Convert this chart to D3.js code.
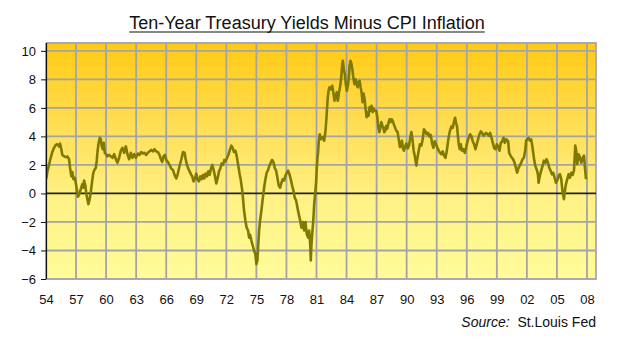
<!DOCTYPE html>
<html>
<head>
<meta charset="utf-8">
<script src="https://cdn.jsdelivr.net/npm/d3@7"></script>
<style>
  html, body { margin: 0; padding: 0; background: #fff; }
  svg { display: block; }
  text { font-family: "Liberation Sans", Arial, sans-serif; fill: #111; }
</style>
</head>
<body>
<svg id="chart" width="620" height="343"></svg>
<script>
// Real 10-year Treasury yield (yield minus CPI inflation), %, by decimal year
const decYear = [
  1954.00,1954.07,1954.13,1954.30,1954.47,1954.63,1954.80,1954.97,1955.13,1955.30,1955.40,1955.53,1955.63,1955.80,1955.97,
  1956.13,1956.30,1956.40,1956.53,1956.63,1956.73,1956.87,1956.97,1957.07,1957.20,1957.33,1957.47,1957.63,1957.73,1957.80,1957.93,
  1958.03,1958.13,1958.23,1958.33,1958.47,1958.57,1958.70,1958.80,1958.97,1959.07,1959.13,1959.23,1959.37,1959.47,1959.57,1959.67,1959.77,1959.87,
  1960.00,1960.13,1960.30,1960.47,1960.63,1960.80,1960.97,1961.13,1961.30,1961.47,1961.63,1961.80,1961.97,1962.13,1962.30,1962.47,1962.63,1962.80,1962.97,
  1963.17,1963.33,1963.50,1963.67,1963.83,1964.00,1964.17,1964.33,1964.50,1964.67,1964.83,1965.00,1965.17,1965.33,1965.50,1965.60,1965.73,1965.87,
  1966.00,1966.17,1966.33,1966.50,1966.67,1966.83,1967.00,1967.13,1967.27,1967.40,1967.53,1967.67,1967.83,1967.93,1968.07,1968.20,1968.33,1968.50,1968.60,1968.73,1968.87,
  1969.00,1969.13,1969.27,1969.40,1969.53,1969.67,1969.80,1969.93,1970.07,1970.20,1970.33,1970.47,1970.60,1970.73,1970.87,1971.00,1971.13,1971.27,1971.40,1971.53,1971.67,1971.80,1971.93,
  1972.07,1972.20,1972.33,1972.50,1972.63,1972.77,1972.90,1973.03,1973.17,1973.33,1973.43,1973.57,1973.67,1973.77,1973.90,1974.03,1974.17,1974.27,1974.37,1974.50,1974.63,1974.77,1974.90,
  1975.00,1975.10,1975.17,1975.27,1975.37,1975.50,1975.63,1975.77,1975.90,1976.03,1976.17,1976.30,1976.43,1976.57,1976.70,1976.83,1976.97,1977.10,1977.23,1977.37,1977.50,1977.63,1977.77,1977.90,
  1978.03,1978.17,1978.30,1978.43,1978.57,1978.70,1978.83,1978.97,1979.10,1979.23,1979.37,1979.50,1979.63,1979.77,1979.90,1980.03,1980.17,1980.27,1980.37,1980.43,1980.50,1980.60,1980.70,1980.77,1980.87,1980.97,
  1981.03,1981.10,1981.17,1981.23,1981.33,1981.43,1981.50,1981.63,1981.77,1981.90,1982.00,1982.10,1982.20,1982.30,1982.43,1982.57,1982.70,1982.80,1982.90,1983.03,1983.13,1983.23,1983.37,1983.47,1983.57,1983.63,1983.73,1983.83,1983.93,
  1984.03,1984.13,1984.23,1984.30,1984.40,1984.50,1984.60,1984.70,1984.80,1984.90,1985.00,1985.10,1985.20,1985.30,1985.40,1985.50,1985.60,1985.70,1985.80,1985.90,
  1986.00,1986.10,1986.20,1986.30,1986.40,1986.50,1986.60,1986.70,1986.83,1986.97,1987.07,1987.17,1987.27,1987.37,1987.47,1987.57,1987.67,1987.77,1987.87,1987.97,
  1988.07,1988.20,1988.30,1988.40,1988.50,1988.60,1988.70,1988.83,1988.97,1989.10,1989.23,1989.33,1989.43,1989.53,1989.63,1989.73,1989.83,1989.97,
  1990.10,1990.23,1990.37,1990.47,1990.57,1990.70,1990.83,1990.97,1991.03,1991.13,1991.23,1991.33,1991.47,1991.60,1991.73,1991.87,
  1992.00,1992.13,1992.27,1992.40,1992.53,1992.67,1992.80,1992.93,1993.07,1993.20,1993.33,1993.47,1993.60,1993.73,1993.87,
  1994.00,1994.13,1994.27,1994.37,1994.47,1994.60,1994.73,1994.83,1994.93,1995.03,1995.10,1995.20,1995.30,1995.40,1995.53,1995.67,1995.80,1995.93,
  1996.07,1996.20,1996.33,1996.47,1996.60,1996.73,1996.87,1997.00,1997.13,1997.27,1997.40,1997.53,1997.67,1997.80,1997.93,
  1998.07,1998.20,1998.33,1998.47,1998.60,1998.73,1998.87,1999.00,1999.13,1999.27,1999.40,1999.53,1999.67,1999.80,1999.93,
  2000.13,2000.23,2000.37,2000.50,2000.63,2000.77,2000.90,2001.03,2001.17,2001.30,2001.43,2001.57,2001.70,2001.83,2001.93,
  2002.03,2002.17,2002.30,2002.43,2002.57,2002.70,2002.83,2002.97,2003.10,2003.17,2003.30,2003.43,2003.57,2003.70,2003.83,2003.97,
  2004.10,2004.23,2004.37,2004.50,2004.63,2004.77,2004.90,2005.03,2005.17,2005.30,2005.43,2005.57,2005.70,2005.80,2005.90,
  2006.03,2006.17,2006.30,2006.43,2006.57,2006.70,2006.77,2006.83,2006.93,2007.03,2007.17,2007.30,2007.43,2007.57,2007.70,2007.80,2007.90
];
const realYield = [
  1.0,1.2,1.5,2.0,2.5,2.9,3.2,3.4,3.45,3.3,3.5,3.1,2.7,2.6,2.55,
  2.6,2.4,1.8,1.2,1.5,1.0,1.1,0.75,0.3,-0.23,-0.05,0.3,0.65,0.4,0.9,0.55,
  -0.05,-0.4,-0.75,-0.5,0.07,0.65,1.35,1.6,1.8,2.3,2.85,3.45,3.9,3.8,3.3,3.1,3.55,2.85,
  2.75,2.6,2.7,2.6,2.5,2.75,2.4,2.15,2.5,3.0,3.2,2.85,3.3,2.75,2.4,2.85,2.5,2.75,2.5,
  2.8,2.7,2.9,2.8,2.85,2.7,2.85,2.95,3.05,2.95,3.1,2.95,2.9,2.7,2.35,2.2,2.6,2.7,
  2.35,2.2,2.0,1.75,1.65,1.3,1.05,1.3,1.75,2.1,2.45,2.9,2.85,2.45,2.0,1.75,1.55,1.3,1.2,0.85,1.05,
  1.4,0.95,0.85,1.2,1.0,1.3,1.05,1.4,1.2,1.55,1.3,1.75,2.0,1.65,1.2,0.7,1.05,1.55,1.75,2.1,2.0,2.35,2.25,
  2.5,2.7,3.0,3.35,3.2,2.9,3.0,2.65,2.05,1.35,1.0,0.3,-0.4,-1.2,-1.9,-2.4,-2.6,-3.1,-2.9,-3.3,-3.65,-4.0,-4.25,
  -4.95,-4.7,-3.8,-2.6,-1.9,-1.2,-0.4,0.4,1.0,1.45,1.65,1.95,2.15,2.35,2.2,1.8,1.6,1.1,0.55,0.4,0.75,1.0,0.9,1.25,
  1.45,1.6,1.35,1.0,0.55,0.2,-0.3,-0.5,-1.0,-1.45,-1.9,-2.4,-2.0,-2.6,-2.0,-2.85,-3.1,-2.6,-3.55,-4.7,-3.55,-2.6,-1.7,-0.75,0.0,0.9,
  1.8,2.5,3.0,3.7,4.15,3.8,3.85,3.95,3.7,4.4,5.35,6.5,7.2,7.45,7.3,7.55,7.0,6.5,6.75,7.1,6.5,7.0,7.55,8.15,9.05,9.3,8.7,8.35,7.65,
  7.2,7.55,8.15,8.95,9.3,9.05,8.6,8.0,7.65,8.0,7.8,7.45,7.8,7.9,7.45,7.1,6.4,7.0,6.6,5.95,
  5.35,5.7,5.45,6.05,5.8,6.15,5.7,5.95,5.8,5.8,5.35,4.65,4.3,4.55,5.0,4.75,4.65,4.3,4.4,4.75,
  4.55,5.0,5.2,5.0,5.2,5.1,4.9,4.65,4.4,4.3,3.7,3.25,3.35,3.7,3.15,3.0,3.25,3.5,
  3.15,3.35,3.95,4.3,3.85,3.0,2.55,1.95,2.3,2.7,3.1,3.45,3.35,3.8,4.5,4.35,
  4.15,4.25,4.0,4.1,3.55,3.2,3.65,3.45,3.2,3.0,2.85,2.75,2.95,2.65,2.5,
  2.95,3.65,4.25,4.5,4.7,4.6,5.05,5.3,4.95,4.7,4.15,3.45,3.1,3.45,3.0,3.1,2.85,3.2,
  3.65,3.9,4.15,4.0,3.65,3.45,3.1,3.45,3.8,4.15,4.35,4.25,4.05,4.15,4.25,
  4.15,4.05,4.25,3.9,3.55,3.2,3.1,3.45,3.3,3.0,3.55,3.65,3.9,3.55,3.8,
  3.65,2.85,2.65,2.5,2.4,2.15,1.8,1.45,1.8,1.95,2.15,2.4,2.5,3.0,3.7,
  3.8,3.9,3.7,3.8,3.2,2.5,1.95,1.7,1.35,0.75,1.25,1.6,1.95,2.3,2.15,2.4,
  2.15,1.8,1.6,1.35,1.45,1.1,0.75,0.9,1.25,1.35,1.0,0.05,-0.4,0.2,0.65,
  1.0,1.35,1.1,1.45,1.3,1.6,2.5,3.35,3.0,2.05,2.75,2.5,2.15,2.5,2.65,1.8,1.0
];

const yearTicks = [1954,1957,1960,1963,1966,1969,1972,1975,1978,1981,1984,1987,1990,1993,1996,1999,2002,2005,2008];
const valueTicks = [-6,-4,-2,0,2,4,6,8,10];
const titleText = "Ten-Year Treasury Yields Minus CPI Inflation";

const svg = d3.select("#chart");
const plot = { left: 46, right: 596, top: 43, bottom: 279 };

const x = d3.scaleLinear().domain([1954, 2008.9]).range([plot.left, plot.right]);
const y = d3.scaleLinear().domain([-6, 10.55]).range([plot.bottom, plot.top]);

// Background gradient: deep yellow at the top fading to pale yellow
const defs = svg.append("defs");
const grad = defs.append("linearGradient")
  .attr("id", "bg").attr("x1", 0).attr("y1", 0).attr("x2", 0).attr("y2", 1);
grad.append("stop").attr("offset", "0%").attr("stop-color", "#FFCA12");
grad.append("stop").attr("offset", "35%").attr("stop-color", "#FFDE55");
grad.append("stop").attr("offset", "65%").attr("stop-color", "#FFF184");
grad.append("stop").attr("offset", "100%").attr("stop-color", "#FFFC9B");

defs.append("clipPath").attr("id", "clip")
  .append("rect")
  .attr("x", plot.left).attr("y", plot.top)
  .attr("width", plot.right - plot.left).attr("height", plot.bottom - plot.top);

svg.append("rect")
  .attr("x", plot.left).attr("y", plot.top)
  .attr("width", plot.right - plot.left).attr("height", plot.bottom - plot.top)
  .attr("fill", "url(#bg)");

// Grid
const grid = svg.append("g").attr("stroke", "#A4A4A4").attr("stroke-width", 1.8);
grid.selectAll("line.v").data(yearTicks).join("line")
  .attr("x1", d => x(d)).attr("x2", d => x(d))
  .attr("y1", plot.top).attr("y2", plot.bottom);
grid.selectAll("line.h").data(valueTicks.filter(v => v !== 0)).join("line")
  .attr("x1", plot.left).attr("x2", plot.right)
  .attr("y1", d => y(d)).attr("y2", d => y(d));

// Plot frame (top and right)
svg.append("path")
  .attr("d", `M${plot.left},${plot.top}H${plot.right}V${plot.bottom}H${plot.left}`)
  .attr("fill", "none").attr("stroke", "#A8A8B4").attr("stroke-width", 1.8);

// Zero line
svg.append("line")
  .attr("x1", plot.left).attr("x2", plot.right)
  .attr("y1", y(0)).attr("y2", y(0))
  .attr("stroke", "#222").attr("stroke-width", 1.8);

// Series line
const pts = decYear.map((t, i) => [t, realYield[i]]);
svg.append("path")
  .datum(pts)
  .attr("clip-path", "url(#clip)")
  .attr("fill", "none")
  .attr("stroke", "#807A00")
  .attr("stroke-width", 2.6)
  .attr("stroke-linejoin", "round")
  .attr("d", d3.line().x(d => x(d[0])).y(d => y(d[1])));

// Y axis
const yAxis = svg.append("g")
  .attr("transform", `translate(${plot.left},0)`)
  .call(d3.axisLeft(y).tickValues(valueTicks).tickSize(5).tickPadding(5).tickFormat(d3.format("d")));
yAxis.select(".domain").attr("stroke", "#111").attr("stroke-width", 1.2)
  .attr("d", `M0.5,${plot.top}V${plot.bottom}`);
yAxis.selectAll(".tick line").attr("stroke", "#111");
yAxis.selectAll("text").style("font-size", "13px").attr("fill", "#111");

// X axis labels
const xAxis = svg.append("g")
  .attr("transform", `translate(0,${plot.bottom})`)
  .call(d3.axisBottom(x).tickValues(yearTicks).tickSize(0).tickPadding(16)
    .tickFormat(d => String(d % 100).padStart(2, "0")));
xAxis.select(".domain").remove();
xAxis.selectAll("text").style("font-size", "13px").attr("fill", "#111");

// Title with underline
const title = svg.append("text")
  .attr("x", 307).attr("y", 29)
  .attr("text-anchor", "middle")
  .style("font-size", "18px")
  .text(titleText);
const tb = title.node().getBBox();
svg.append("line")
  .attr("x1", tb.x).attr("x2", tb.x + tb.width)
  .attr("y1", 32).attr("y2", 32)
  .attr("stroke", "#111").attr("stroke-width", 1.2);

// Source note
const src = svg.append("text")
  .attr("x", 596).attr("y", 327)
  .attr("text-anchor", "end")
  .style("font-size", "14px");
src.append("tspan").style("font-style", "italic").text("Source:");
src.append("tspan").text("\u00A0 St.Louis Fed");
</script>
</body>
</html>
